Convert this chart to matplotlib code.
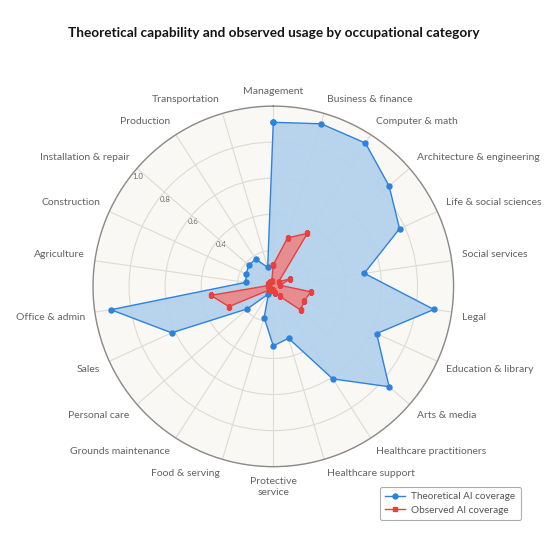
import numpy as np
import matplotlib
matplotlib.use("Agg")
import matplotlib.pyplot as plt
from matplotlib.lines import Line2D

categories = ["Management", "Business & finance", "Computer & math",
              "Architecture & engineering", "Life & social sciences",
              "Social services", "Legal", "Education & library", "Arts & media",
              "Healthcare practitioners", "Healthcare support",
              "Protective\nservice", "Food & serving", "Grounds maintenance",
              "Personal care", "Sales", "Office & admin", "Agriculture",
              "Construction", "Installation & repair", "Production",
              "Transportation"]
theoretical = [0.91, 0.94, 0.945, 0.85, 0.77, 0.51, 0.90, 0.63, 0.85, 0.61,
               0.30, 0.33, 0.18, 0.05, 0.19, 0.62, 0.91, 0.155, 0.165, 0.18,
               0.18, 0.11]
observed = [0.12, 0.28, 0.35, 0.04, 0.10, 0.04, 0.21, 0.19, 0.20, 0.065,
            0.04, 0.02, 0.02, 0.02, 0.03, 0.27, 0.35, 0.03, 0.03, 0.03,
            0.03, 0.03]
r_ticks = [0.2, 0.4, 0.6, 0.8, 1.0]
r_tick_labels = ["", "0.4", "0.6", "0.8", "1.0"]

plt.rcParams['font.family'] = ['Lato', 'DejaVu Sans']

fig = plt.figure(figsize=(5.49, 5.60), dpi=100)
fig.patch.set_facecolor("white")
ax = fig.add_axes([0.1694, 0.1666, 0.6568, 0.644], projection="polar")
ax.set_theta_zero_location("N")
ax.set_theta_direction(-1)
ax.set_facecolor("#f9f8f5")

n = len(categories)
angles = np.arange(n) * 2 * np.pi / n
ang_closed = np.concatenate([angles, angles[:1]])

grid_col = "#dedbd2"
ax.set_ylim(0, 1.0)
ax.set_yticks(r_ticks)
ax.set_yticklabels([])
ax.set_xticks(angles)
ax.set_xticklabels([])
ax.grid(color=grid_col, linewidth=0.8)
ax.spines["polar"].set_color("#8a8a8a")
ax.spines["polar"].set_linewidth(1.0)
ax.tick_params(length=0)

blue = "#2d82dc"
red = "#e8403f"
t_vals = np.concatenate([theoretical, theoretical[:1]])
o_vals = np.concatenate([observed, observed[:1]])
ax.fill(ang_closed, t_vals, color="#b5d1ec", alpha=0.95, zorder=2, linewidth=0)
ax.plot(ang_closed, t_vals, color=blue, linewidth=1.0, marker="o",
        markersize=3.6, zorder=4)
ax.fill(ang_closed, o_vals, color="#f27c7c", alpha=0.8, zorder=3, linewidth=0)
ax.plot(ang_closed, o_vals, color=red, linewidth=1.0, marker="s",
        markersize=3.2, zorder=5)

# radial tick labels along the Installation & repair spoke
rl_angle = np.deg2rad(309)
for r, lab in zip(r_ticks, r_tick_labels):
    if lab:
        ax.text(rl_angle, r - 0.03, lab, fontsize=5.6, color="#666666",
                ha="center", va="center", zorder=1)

# category labels (Chart.js style placement)
lab_r = 1.056
for a, lab in zip(angles, categories):
    deg = np.rad2deg(a) % 360
    if abs(deg) < 1 or abs(deg - 180) < 1:
        ha = "center"
    elif deg < 180:
        ha = "left"
    else:
        ha = "right"
    if abs(deg - 90) < 1 or abs(deg - 270) < 1:
        va = "center"
    elif deg < 90 or deg > 270:
        va = "bottom"
    else:
        va = "top"
    ax.text(a, lab_r, lab, ha=ha, va=va, fontsize=7.5, color="#626262",
            linespacing=1.25, clip_on=False)

fig.text(0.4985, 0.941, "Theoretical capability and observed usage by occupational category",
         ha="center", va="center", fontsize=9.8, fontweight="bold", color="#141413")

handles = [Line2D([0], [0], color=blue, marker="o", markersize=3.6, linewidth=1.0),
           Line2D([0], [0], color=red, marker="s", markersize=3.2, linewidth=1.0)]
leg = fig.legend(handles, ["Theoretical AI coverage", "Observed AI coverage"],
                 loc="lower right", bbox_to_anchor=(0.958, 0.062),
                 fontsize=7.2, frameon=True, handlelength=2.0, labelspacing=0.45,
                 borderpad=0.55, handletextpad=0.6, fancybox=True,
                 labelcolor="#555555")
leg.get_frame().set_edgecolor("#9a9a9a")
leg.get_frame().set_linewidth(0.8)

fig.savefig("out.png", dpi=100, facecolor="white")
